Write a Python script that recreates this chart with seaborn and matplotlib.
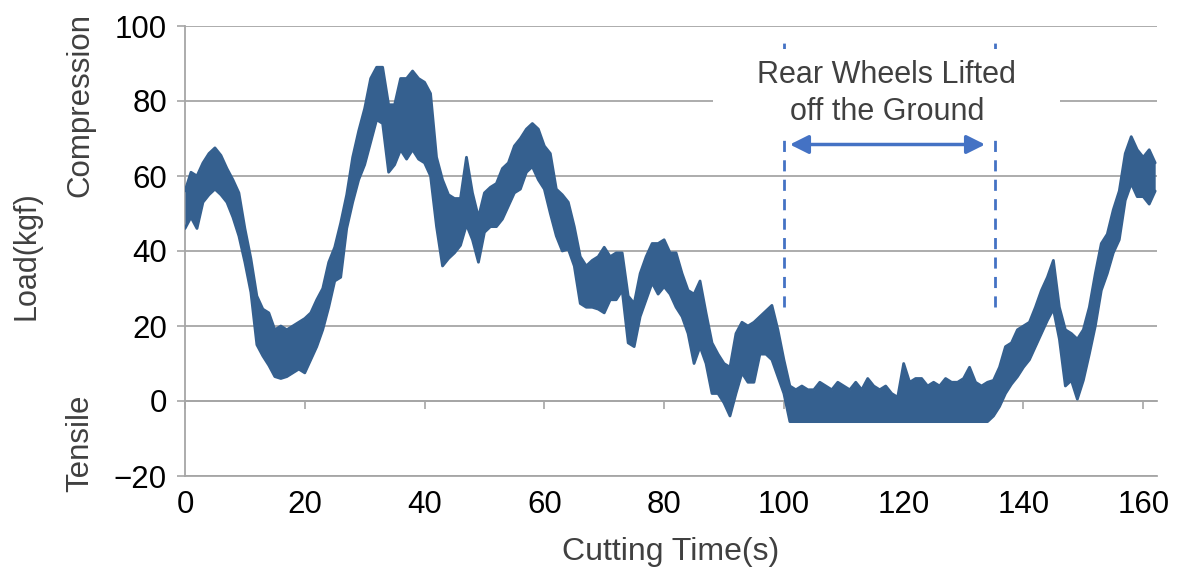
import matplotlib
matplotlib.use("Agg")
import matplotlib.pyplot as plt
from matplotlib.patches import Rectangle
import seaborn as sns
import pandas as pd

# load envelope, one value per second (0..162 s)
time_s = list(range(0, 163))

load_hi = [
    56, 61, 60, 63.5, 66, 67.5, 65.5, 62, 59, 55.5,
    46, 38, 28, 24.5, 23.5, 19, 20, 19, 20, 21,
    22, 23.5, 27, 30, 37, 41, 47.5, 55, 65, 72,
    78, 86, 89, 89, 79, 79, 86, 86, 88, 86,
    85, 82, 65, 59, 55, 54, 54, 65, 55.5, 49,
    55.5, 57, 58, 62, 63.5, 68, 70, 72.5, 74, 72.5,
    68, 66, 56.5, 55, 53, 46.5, 38.5, 36, 37.5, 38.5,
    41, 38.5, 39.5, 39.5, 28, 26, 34, 38.5, 42, 42,
    43, 39.5, 39.5, 34, 29.5, 28.5, 32, 23.5, 15.5, 12.5,
    10, 9, 18, 21, 20, 21, 22.5, 24, 25.5, 19,
    11, 4, 3, 4, 3, 3, 5, 4, 3, 5,
    4, 3, 5, 3, 6, 4, 3, 4, 2, 1,
    10, 5, 6, 6, 4, 5, 4, 6, 5, 5,
    6, 9, 5, 4, 5, 5.5, 9, 14.5, 15.5, 19,
    20, 21, 25, 29.5, 33, 37.5, 25, 19, 18, 16.5,
    19, 25, 34, 42, 44.5, 51, 56, 66, 70.5, 67,
    65, 67, 63.5,
]

load_lo = [
    46, 49, 46, 53, 55, 56.5, 55, 53, 49, 44,
    37, 29, 15, 12, 9.5, 6.5, 6, 6.5, 7.5, 8.5,
    7.5, 11, 14.5, 19, 25, 32, 33, 46, 53, 59,
    63, 69, 75, 74, 61, 63, 67, 64.5, 67, 64.5,
    63.5, 60, 46.5, 36, 38, 39.5, 41.5, 47, 43, 37,
    45, 46.5, 46.5, 48.5, 52, 55.5, 56.5, 61, 62.5, 59,
    56.5, 50, 44, 40, 40.5, 36, 26, 25, 25, 24.5,
    23.5, 27, 27, 29.5, 15.5, 14.5, 22.5, 27, 31.5, 28.5,
    30.5, 28.5, 25, 22.5, 18, 10, 14.5, 10, 2, 2,
    -0.5, -4, 2, 7.5, 5, 5, 12.5, 12.5, 11, 6.5,
    2, -5.5, -5.5, -5.5, -5.5, -5.5, -5.5, -5.5, -5.5, -5.5,
    -5.5, -5.5, -5.5, -5.5, -5.5, -5.5, -5.5, -5.5, -5.5, -5.5,
    -5.5, -5.5, -5.5, -5.5, -5.5, -5.5, -5.5, -5.5, -5.5, -5.5,
    -5.5, -5.5, -5.5, -5.5, -5.5, -4, -1.5, 2, 4.5, 6.5,
    9, 11, 14.5, 18, 21.5, 24.5, 16.5, 4, 5.5, 0.5,
    5.5, 12.5, 20, 29.5, 34, 39.5, 43, 53.5, 58, 54.5,
    54.5, 52.5, 56,
]

y_ticks = [-20, 0, 20, 40, 60, 80, 100]
x_ticks = [0, 20, 40, 60, 80, 100, 120, 140, 160]

lift_start, lift_end = 100, 135.2
annot_text = "Rear Wheels Lifted\noff the Ground"

LINE_COLOR = "#35608F"
ACCENT = "#4472C4"
GRID = "#A6A6A6"
LABEL_GRAY = "#404040"

sns.set_theme(style="white")
plt.rcParams["font.family"] = ["Liberation Sans", "DejaVu Sans"]

df = pd.DataFrame({"time": time_s, "hi": load_hi, "lo": load_lo})

fig = plt.figure(figsize=(11.89, 5.76), dpi=100)
ax = fig.add_axes([185 / 1189, 1 - 476 / 576, 972 / 1189, 450 / 576])

ax.fill_between(df["time"], df["lo"], df["hi"], color=LINE_COLOR, lw=0, zorder=3)
sns.lineplot(data=df, x="time", y="hi", ax=ax, color=LINE_COLOR, lw=2, zorder=3)
sns.lineplot(data=df, x="time", y="lo", ax=ax, color=LINE_COLOR, lw=2, zorder=3)

ax.set_xlim(0, 162.3)
ax.set_ylim(-20, 100)
ax.set_xticks(x_ticks)
ax.set_yticks(y_ticks)
ax.set_xlabel("")
ax.set_ylabel("")

ax.grid(axis="y", color=GRID, lw=1.3, zorder=0)
ax.grid(axis="x", visible=False)
for side in ["top", "right"]:
    ax.spines[side].set_visible(False)
for side in ["left", "bottom"]:
    ax.spines[side].set_color(GRID)
    ax.spines[side].set_linewidth(1.3)

ax.tick_params(axis="y", left=True, length=6, width=1.2, color=GRID,
               labelsize=22.5, labelcolor="black", pad=7)
ax.tick_params(axis="x", bottom=False, labelsize=22.5, labelcolor="black", pad=4)

# tick marks sit on the zero line, labels stay at the bottom
zero_axis = ax.secondary_xaxis(20 / 120)
zero_axis.set_xticks(x_ticks)
zero_axis.tick_params(axis="x", length=6, width=1.2, color=GRID, labelbottom=False)
zero_axis.spines["bottom"].set_color(GRID)
zero_axis.spines["bottom"].set_linewidth(1.3)

# lifted-off region annotation
for xv in [lift_start, lift_end]:
    ax.plot([xv, xv], [25, 95.8], color=ACCENT, lw=2, ls=(0, (4, 3)), zorder=1)
ax.add_patch(Rectangle((88.1, 69.5), 58, 24.5, facecolor="white", edgecolor="none", zorder=2))
ax.text(117.2, 82, annot_text, ha="center", va="center", fontsize=22,
        color=LABEL_GRAY, linespacing=1.3, zorder=4)
ax.annotate("", xy=(101, 68.4), xytext=(133.6, 68.4),
            arrowprops=dict(arrowstyle="<|-|>", color=ACCENT, lw=2.5, mutation_scale=28,
                            shrinkA=0, shrinkB=0), zorder=4)

fig.text(27 / 1189, 1 - 256 / 576, "Load(kgf)", rotation=90, ha="center", va="center",
         fontsize=22, color=LABEL_GRAY)
fig.text(80 / 1189, 1 - 105 / 576, "Compression", rotation=90, ha="center", va="center",
         fontsize=22.5, color=LABEL_GRAY)
fig.text(80 / 1189, 1 - 443 / 576, "Tensile", rotation=90, ha="center", va="center",
         fontsize=22.5, color=LABEL_GRAY)
fig.text(671 / 1189, 1 - 552 / 576, "Cutting Time(s)", ha="center", va="center",
         fontsize=23, color=LABEL_GRAY)

fig.savefig("out.png", dpi=100)
